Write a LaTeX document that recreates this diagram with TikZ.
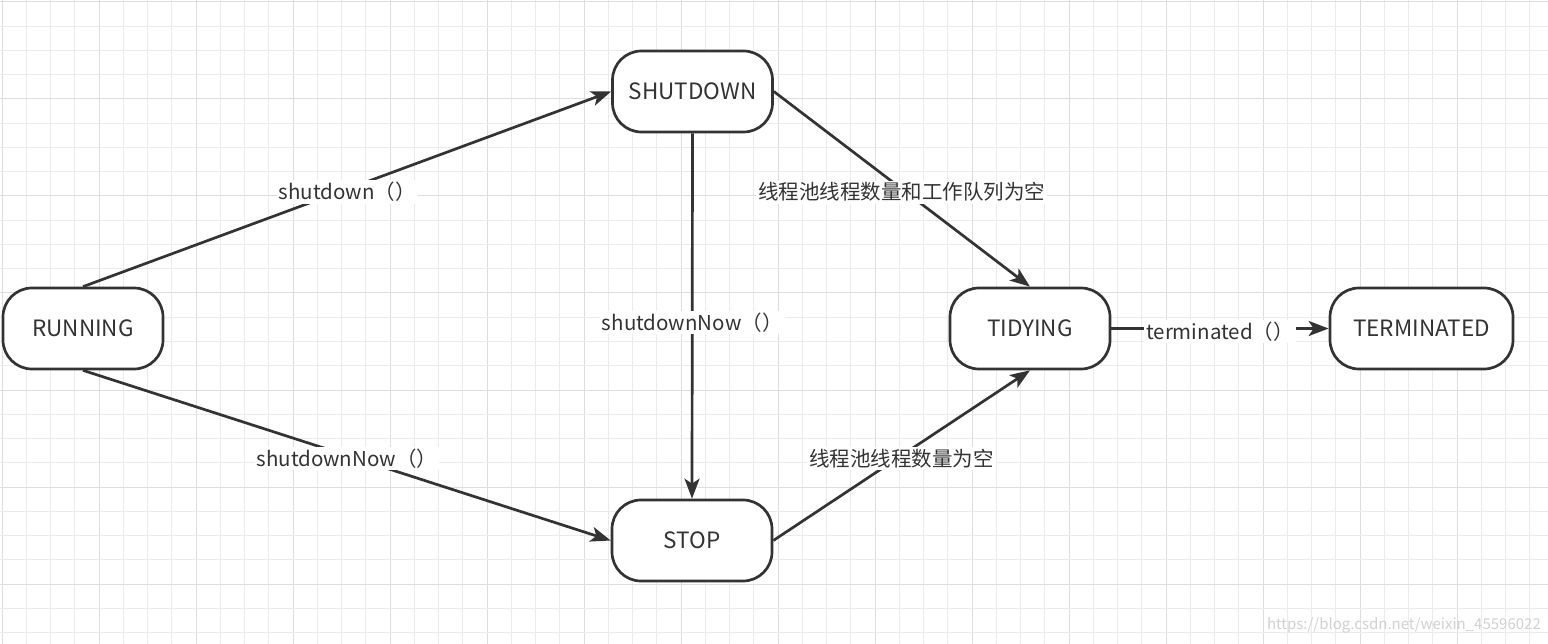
\documentclass[tikz,border=0pt]{standalone}
\usepackage{fontspec}
\setmainfont{Noto Sans CJK SC}
\usetikzlibrary{arrows.meta}
\definecolor{ink}{HTML}{333333}
\definecolor{gridminor}{HTML}{EBEBEB}
\definecolor{gridmajor}{HTML}{DDDDDD}
\tikzset{
  state/.style={draw=ink, line width=2.7pt, rounded corners=29pt, fill=white,
    minimum width=160pt, minimum height=81pt, text=ink, font=\fontsize{22.5}{26}\selectfont, inner sep=0pt},
  conn/.style={draw=ink, line width=2.7pt, -{Stealth[length=20pt,width=15pt,inset=5pt]}},
  lbl/.style={fill=white, text=ink, font=\fontsize{20.5}{24}\selectfont, inner sep=2pt, yshift=-3pt}
}
\begin{document}
\begin{tikzpicture}[x=1pt,y=-1pt]
\useasboundingbox (0,0) rectangle (1548,644);
\fill[white] (0,0) rectangle (1548,644);
% grid
\foreach \k in {0,...,63}{
  \pgfmathsetmacro{\xx}{2+24.25*\k}
  \pgfmathtruncatemacro{\m}{mod(\k,4)}
  \ifnum\m=0
    \draw[gridmajor, line width=1pt] (\xx,0) -- (\xx,644);
  \else
    \draw[gridminor, line width=1pt] (\xx,0) -- (\xx,644);
  \fi
}
\foreach \k in {0,...,26}{
  \pgfmathsetmacro{\yy}{2+24.25*\k}
  \pgfmathtruncatemacro{\m}{mod(\k,4)}
  \ifnum\m=0
    \draw[gridmajor, line width=1pt] (0,\yy) -- (1548,\yy);
  \else
    \draw[gridminor, line width=1pt] (0,\yy) -- (1548,\yy);
  \fi
}
% nodes
\node[state] (run) at (83,328.5) {RUNNING};
\node[state] (shut) at (692.5,91.5) {SHUTDOWN};
\node[state] (stop) at (692,540.5) {STOP};
\node[state] (tidy) at (1030,328.5) {TIDYING};
\node[state, minimum width=183pt] (term) at (1421.5,328.5) {TERMINATED};
% connectors
\draw[conn] (run.north) -- node[lbl, pos=0.5]{shutdown（）} (shut.west);
\draw[conn] (run.south) -- node[lbl, pos=0.5]{shutdownNow（）} (stop.west);
\draw[conn] (shut.south) -- node[lbl, pos=0.51]{shutdownNow（）} (stop.north);
\draw[conn] (shut.east) -- node[lbl, pos=0.5]{线程池线程数量和工作队列为空} (tidy.north);
\draw[conn] (stop.east) -- node[lbl, pos=0.5]{线程池线程数量为空} (tidy.south);
\draw[conn] (tidy.east) -- node[lbl, pos=0.5]{terminated（）} (term.west);
% watermark
\node[text=black!18, font=\fontsize{15}{18}\selectfont, anchor=east, inner sep=0pt] (wm) at (1541,625) {https://blog.csdn.net/weixin\_45596022};
\end{tikzpicture}
\end{document}
